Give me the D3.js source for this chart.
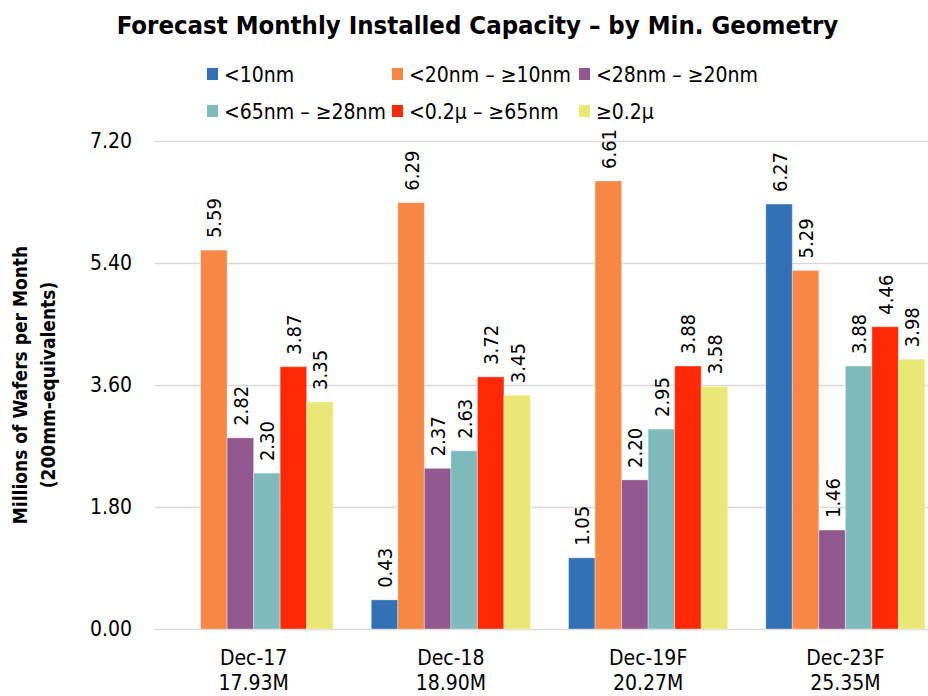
<!DOCTYPE html>
<html>
<head>
<meta charset="utf-8">
<script src="https://cdn.jsdelivr.net/npm/d3@7"></script>
<style>
  html, body { margin: 0; padding: 0; background: #fff; overflow: hidden; }
  svg { display: block; }
</style>
</head>
<body>
<svg id="chart" width="928" height="696"></svg>
<script>
// Monthly installed capacity (millions of 200mm-equivalent wafers) by minimum geometry
const periods = ["Dec-17", "Dec-18", "Dec-19F", "Dec-23F"];
const totals = ["17.93M", "18.90M", "20.27M", "25.35M"];
const geometries = ["<10nm", "<20nm – ≥10nm", "<28nm – ≥20nm", "<65nm – ≥28nm", "<0.2μ – ≥65nm", "≥0.2μ"];
const under10nm   = [null, 0.43, 1.05, 6.27];
const nm10to20    = [5.59, 6.29, 6.61, 5.29];
const nm20to28    = [2.82, 2.37, 2.20, 1.46];
const nm28to65    = [2.30, 2.63, 2.95, 3.88];
const nm65to200   = [3.87, 3.72, 3.88, 4.46];
const over200nm   = [3.35, 3.45, 3.58, 3.98];
const yTicks = [0, 1.8, 3.6, 5.4, 7.2];
const colors = ["#3271b6", "#f68745", "#925890", "#80bbbc", "#ff2a05", "#e9e876"];

const seriesValues = [under10nm, nm10to20, nm20to28, nm28to65, nm65to200, over200nm];

const svg = d3.select("#chart");
const font = "'DejaVu Sans Condensed', 'DejaVu Sans', sans-serif";

// The plot area runs past the right edge of the canvas; the last group sits at the border
const x0 = d3.scaleBand().domain(periods).range([155, 944]).paddingInner(0.193).paddingOuter(0.0965);
const x1 = d3.scaleBand().domain(geometries).range([0, x0.bandwidth()]);
const y = d3.scaleLinear().domain([0, 7.2]).range([629, 141]);
const color = d3.scaleOrdinal().domain(geometries).range(colors);

// Title
svg.append("text")
  .attr("x", 477.5).attr("y", 33.5)
  .attr("text-anchor", "middle")
  .attr("font-family", font)
  .attr("font-weight", "bold")
  .attr("font-size", 25.5)
  .attr("fill", "#000")
  .text("Forecast Monthly Installed Capacity – by Min. Geometry");

// Legend, three columns by two rows
const legend = svg.append("g");
const legendCols = [207, 392, 579];
const legendRows = [74, 111];
geometries.forEach((g, i) => {
  const lx = legendCols[i % 3], ly = legendRows[Math.floor(i / 3)];
  legend.append("rect")
    .attr("x", lx).attr("y", ly - 6).attr("width", 11).attr("height", 12)
    .attr("fill", color(g));
  legend.append("text")
    .attr("x", lx + 17).attr("y", ly + 8)
    .attr("font-family", font).attr("font-size", 21).attr("fill", "#000")
    .text(g);
});

// Y axis with gridlines
const yAxis = svg.append("g")
  .attr("transform", "translate(155,0)")
  .call(d3.axisLeft(y).tickValues(yTicks).tickFormat(d3.format(".2f")).tickSize(-773).tickPadding(23));
yAxis.select(".domain").remove();
yAxis.selectAll(".tick line").attr("stroke", "#d9d9d9").attr("stroke-width", 1.5);
yAxis.selectAll(".tick text")
  .attr("font-family", font).attr("font-size", 21).attr("fill", "#000");

// Y axis title
const yTitle = svg.append("text")
  .attr("transform", "translate(27,385) rotate(-90)")
  .attr("text-anchor", "middle")
  .attr("font-family", font).attr("font-weight", "bold").attr("font-size", 19).attr("fill", "#000");
yTitle.append("tspan").attr("x", 0).attr("dy", 0).text("Millions of Wafers per Month");
yTitle.append("tspan").attr("x", 0).attr("dy", 28).text("(200mm-equivalents)");

// Bars
const groups = svg.append("g").selectAll("g")
  .data(periods)
  .join("g")
  .attr("transform", d => `translate(${x0(d)},0)`);

const cells = groups.selectAll("g.cell")
  .data((p, pi) => geometries.map((g, gi) => ({ g, v: seriesValues[gi][pi] })))
  .join("g").attr("class", "cell");

cells.filter(d => d.v != null).append("rect")
  .attr("x", d => x1(d.g))
  .attr("y", d => y(d.v))
  .attr("width", x1.bandwidth())
  .attr("height", d => y(0) - y(d.v))
  .attr("fill", d => color(d.g))
  .attr("stroke", "#fff")
  .attr("stroke-opacity", 0.35)
  .attr("stroke-width", 1);

cells.filter(d => d.v != null).append("text")
  .attr("transform", d => `translate(${x1(d.g) + x1.bandwidth() / 2 + 7.5},${y(d.v) - 12}) rotate(-90)`)
  .attr("font-family", font).attr("font-size", 20).attr("fill", "#000")
  .text(d => d3.format(".2f")(d.v));

// Category labels with totals
const xLabels = svg.append("g").selectAll("text")
  .data(periods)
  .join("text")
  .attr("x", d => x0(d) + x0.bandwidth() / 2)
  .attr("y", 665)
  .attr("text-anchor", "middle")
  .attr("font-family", font).attr("font-size", 21).attr("fill", "#000");
xLabels.append("tspan").attr("x", d => x0(d) + x0.bandwidth() / 2).text(d => d);
xLabels.append("tspan").attr("x", d => x0(d) + x0.bandwidth() / 2).attr("dy", 25)
  .text((d, i) => totals[i]);
</script>
</body>
</html>
